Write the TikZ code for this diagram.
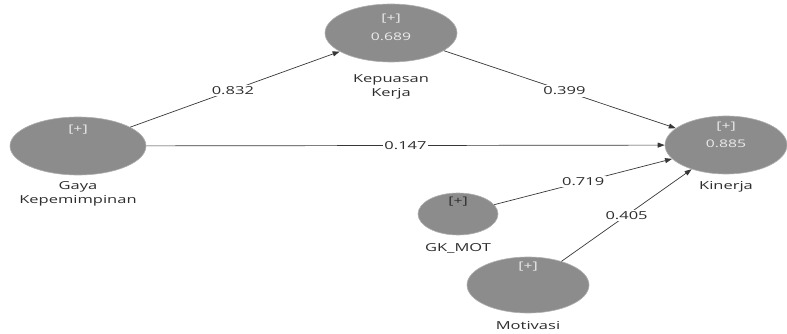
\documentclass[tikz,border=0pt]{standalone}
\usepackage{fontspec}
\setmainfont{Open Sans}[FakeStretch=1.5]
\usetikzlibrary{shapes.geometric,arrows.meta}
\definecolor{lvfill}{RGB}{140,140,140}
\definecolor{lvdraw}{RGB}{175,175,175}
\definecolor{edgecol}{RGB}{55,55,55}
\definecolor{txtcol}{RGB}{45,45,45}
\definecolor{intxt}{RGB}{235,235,235}
\tikzset{
  lv/.style={ellipse, fill=lvfill, draw=lvdraw, line width=0.6pt, inner sep=0pt},
  inlbl/.style={text=intxt, font=\fontsize{10.5}{12}\selectfont, inner sep=0pt},
  namelbl/.style={text=txtcol, font=\fontsize{11}{13.5}\selectfont, align=center, inner sep=0pt},
  path/.style={draw=edgecol, line width=0.7pt, -{Triangle[length=7pt,width=5pt]}},
  coef/.style={fill=white, text=txtcol, font=\fontsize{11}{13}\selectfont, inner sep=1.5pt, midway}
}
\begin{document}
\begin{tikzpicture}[x=1pt,y=-1pt]
\useasboundingbox (0,0) rectangle (787,334);
% latent variables
\node[lv, minimum width=132pt, minimum height=58pt] (kk) at (391,33) {};
\node[lv, minimum width=136pt, minimum height=58pt] (gk) at (78,146) {};
\node[lv, minimum width=122pt, minimum height=58pt] (kin) at (726,145) {};
\node[lv, minimum width=80pt, minimum height=42pt] (gkmot) at (458,214) {};
\node[lv, minimum width=122pt, minimum height=56pt] (mot) at (528,285) {};
% inner texts
\node[inlbl] (kkp) at (391,19) {[+]};
\node[inlbl] (kkv) at (391,37) {0.689};
\node[inlbl] (gkp) at (78,130) {[+]};
\node[inlbl] (kinp) at (726,127) {[+]};
\node[inlbl] (kinv) at (726,144) {0.885};
\node[inlbl, text=txtcol] (gkmotp) at (458,202) {[+]};
\node[inlbl] (motp) at (528,267) {[+]};
% names
\node[namelbl] (kkn) at (391,87) {Kepuasan\\Kerja};
\node[namelbl] (gkn) at (78,194) {Gaya\\Kepemimpinan};
\node[namelbl] (kinn) at (726,187) {Kinerja};
\node[namelbl] (gkmotn) at (458,248) {GK\_MOT};
\node[namelbl] (motn) at (528,326) {Motivasi};
% paths
\draw[path] (gk) -- node[coef, pos=0.49] (c1) {0.832} (kk);
\draw[path] (kk) -- node[coef, pos=0.52] (c2) {0.399} (kin);
\draw[path] (gk) -- node[coef, pos=0.5] (c3) {0.147} (kin);
\draw[path] (gkmot) -- node[coef, pos=0.5] (c4) {0.719} (kin);
\draw[path] (mot) -- node[coef] (c5) {0.405} (kin);
\end{tikzpicture}
\end{document}
